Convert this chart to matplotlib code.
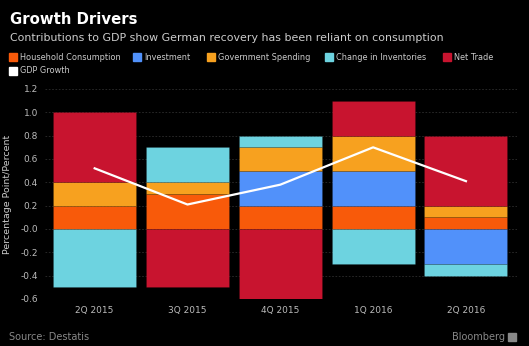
import matplotlib.pyplot as plt
import numpy as np
from matplotlib.patches import Rectangle

# данные
quarters = ['2Q 2015', '3Q 2015', '4Q 2015', '1Q 2016', '2Q 2016']
household = [0.2, 0.3, 0.2, 0.2, 0.1]
investment = [0.0, 0.0, 0.3, 0.3, -0.3]
government = [0.2, 0.1, 0.2, 0.3, 0.1]
inventories = [-0.5, 0.3, 0.1, -0.3, -0.1]
net_trade = [0.6, -0.5, -0.6, 0.3, 0.6]
gdp_growth = [0.52, 0.21, 0.38, 0.70, 0.41]
yticks = [1.2, 1.0, 0.8, 0.6, 0.4, 0.2, 0.0, -0.2, -0.4, -0.6]
ytick_labels = ['1.2', '1.0', '0.8', '0.6', '0.4', '0.2', '-0.0', '-0.2', '-0.4', '-0.6']

names = ['Household Consumption', 'Investment', 'Government Spending',
         'Change in Inventories', 'Net Trade']
series = [household, investment, government, inventories, net_trade]
colors = ['#F85A0A', '#5191FA', '#F7A11F', '#6DD3E0', '#C8142F']

fig = plt.figure(figsize=(5.29, 3.46), dpi=100, facecolor='black')
ax = fig.add_axes([45/529, 1-299/346, 472/529, 210/346], facecolor='black')

x = np.arange(len(quarters))
pos = np.zeros(len(quarters)); neg = np.zeros(len(quarters))
for vals, c in zip(series, colors):
    v = np.array(vals)
    bottom = np.where(v >= 0, pos, neg)
    ax.bar(x, v, 0.894, bottom=bottom, color=c, edgecolor='#00000030', linewidth=0.4, zorder=2)
    pos += np.where(v >= 0, v, 0); neg += np.where(v < 0, v, 0)

ax.plot(x, gdp_growth, color='white', lw=1.6, zorder=3)

ax.set_xlim(-0.535, 4.55)
ax.set_ylim(-0.6, 1.2)
ax.set_yticks(yticks)
ax.set_yticklabels(ytick_labels)
ax.set_xticks(x)
ax.set_xticklabels(quarters)
ax.tick_params(colors='#BBBBBB', labelsize=6.5, length=0, pad=5)
for y in yticks:
    ax.axhline(y, color='#2E2E2E', lw=0.6, ls=(0, (2, 2)), zorder=1)
for s in ax.spines.values():
    s.set_visible(False)
ax.set_ylabel('Percentage Point/Percent', color='#CCCCCC', fontsize=6.8, labelpad=6)

# заголовки
fig.text(10/529, 1-20/346, 'Growth Drivers', color='white', fontsize=10.7,
         fontweight='bold', va='center', ha='left')
fig.text(10/529, 1-38/346,
         'Contributions to GDP show German recovery has been reliant on consumption',
         color='#CCCCCC', fontsize=7.9, va='center', ha='left')

# легенда
leg_x = [9.3, 133.3, 207.3, 325, 442.7]
for lx, n, c in zip(leg_x, names, colors):
    fig.patches.append(Rectangle((lx/529, 1-61.3/346), 8/529, 8/346, color=c,
                                 transform=fig.transFigure, figure=fig))
    fig.text((lx+11)/529, 1-57.5/346, n, color='#CCCCCC', fontsize=5.9, va='center')
fig.patches.append(Rectangle((9.3/529, 1-74.7/346), 8/529, 8/346, color='white',
                             transform=fig.transFigure, figure=fig))
fig.text(20.3/529, 1-70.7/346, 'GDP Growth', color='#CCCCCC', fontsize=5.9, va='center')

fig.text(9.3/529, 1-336.7/346, 'Source: Destatis', color='#888888', fontsize=7, va='center')
fig.text(505/529, 1-336.7/346, 'Bloomberg', color='#888888', fontsize=7, va='center', ha='right')
fig.patches.append(Rectangle((508/529, 1-340.5/346), 8/529, 8/346, color='#888888',
                             transform=fig.transFigure, figure=fig))

fig.savefig('out.png', dpi=100, facecolor='black')
